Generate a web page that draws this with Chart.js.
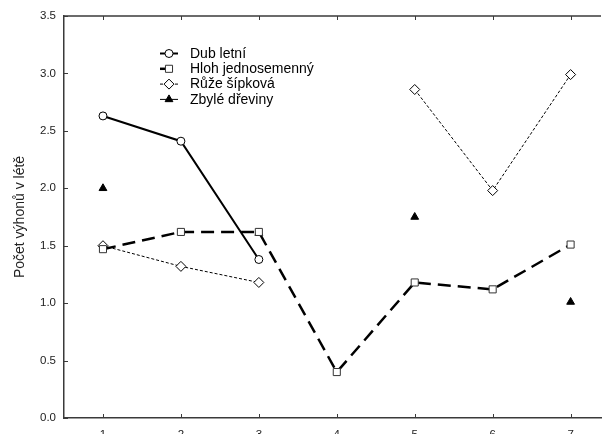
<!DOCTYPE html>
<html>
<head>
<meta charset="utf-8">
<script src="https://cdn.jsdelivr.net/npm/chart.js@4/dist/chart.umd.min.js"></script>
<style>
  html, body { margin: 0; padding: 0; background: #fff; overflow: hidden; }
  #wrap { width: 607px; height: 434px; overflow: hidden; }
</style>
</head>
<body>
<div id="wrap"><canvas id="chart" width="607" height="446"></canvas></div>
<script>
// Data
const xValues = [1, 2, 3, 4, 5, 6, 7];
const dubLetni = [2.63, 2.41, 1.38, null, null, null, null];
const hlohJednosemenny = [1.47, 1.62, 1.62, 0.40, 1.18, 1.12, 1.51];
const ruzeSipkova = [1.50, 1.32, 1.18, null, 2.86, 1.98, 2.99];
const zbyleDreviny = [2.00, null, 1.61, null, 1.75, null, 1.01];
const yTicks = [0, 0.5, 1, 1.5, 2, 2.5, 3, 3.5];

const fontFamily = '"Liberation Sans", Arial, sans-serif';
const axisColor = '#3a3a3a';

const toPoints = arr => xValues.map((x, i) => ({ x: x, y: arr[i] }));

// Inward tick marks + top frame line
const frameTicks = {
    id: 'frameTicks',
    afterDraw(chart) {
        const { ctx, chartArea: a, scales: { x, y } } = chart;
        ctx.save();
        ctx.strokeStyle = axisColor;
        ctx.lineWidth = 1.5;
        ctx.beginPath();
        ctx.moveTo(a.left, a.top);
        ctx.lineTo(a.right, a.top);
        ctx.stroke();
        ctx.lineWidth = 1;
        ctx.beginPath();
        x.ticks.forEach(t => {
            const px = Math.round(x.getPixelForValue(t.value)) + 0.5;
            ctx.moveTo(px, a.bottom);
            ctx.lineTo(px, a.bottom - 4);
            ctx.moveTo(px, a.top);
            ctx.lineTo(px, a.top + 4);
        });
        y.ticks.forEach(t => {
            const py = Math.round(y.getPixelForValue(t.value)) + 0.5;
            ctx.moveTo(a.left, py);
            ctx.lineTo(a.left + 4, py);
        });
        ctx.stroke();
        ctx.restore();
    }
};

// Legend drawn inside the plot, like the original
const innerLegend = {
    id: 'innerLegend',
    afterDraw(chart) {
        const ctx = chart.ctx;
        const left = 160, lineLen = 18, textX = 190, top = 53.5, rowH = 15.3;
        chart.data.datasets.forEach((ds, i) => {
            const yy = top + i * rowH;
            ctx.save();
            ctx.strokeStyle = ds.borderColor;
            ctx.lineWidth = ds.showLine === false ? 1 : ds.borderWidth;
            ctx.setLineDash(ds.showLine === false ? [] : (ds.borderDash || []));
            ctx.beginPath();
            ctx.moveTo(left, yy);
            ctx.lineTo(left + lineLen, yy);
            ctx.stroke();
            ctx.setLineDash([]);
            ctx.fillStyle = ds.pointBackgroundColor;
            ctx.strokeStyle = ds.pointBorderColor;
            ctx.lineWidth = ds.pointBorderWidth;
            Chart.helpers.drawPoint(ctx, {
                pointStyle: ds.pointStyle,
                radius: ds.pointRadius,
                borderWidth: ds.pointBorderWidth,
                rotation: 0
            }, left + lineLen / 2, yy);
            ctx.fillStyle = '#000';
            ctx.font = '14px ' + fontFamily;
            ctx.textBaseline = 'middle';
            ctx.fillText(ds.label, textX, yy + 0.5);
            ctx.restore();
        });
    }
};

new Chart(document.getElementById('chart').getContext('2d'), {
    type: 'line',
    data: {
        datasets: [{
            label: 'Dub letní',
            data: toPoints(dubLetni),
            borderColor: '#000',
            borderWidth: 2,
            pointStyle: 'circle',
            pointRadius: 4,
            pointBackgroundColor: '#fff',
            pointBorderColor: '#000',
            pointBorderWidth: 1,
            tension: 0
        }, {
            label: 'Hloh jednosemenný',
            data: toPoints(hlohJednosemenny),
            borderColor: '#000',
            borderWidth: 2.5,
            borderDash: [13, 7],
            tension: 0,
            pointStyle: 'rect',
            pointRadius: 5,
            pointBackgroundColor: '#fff',
            pointBorderColor: '#333',
            pointBorderWidth: 1
        }, {
            label: 'Růže šípková',
            data: toPoints(ruzeSipkova),
            borderColor: '#000',
            borderWidth: 1,
            borderDash: [3, 2],
            pointStyle: 'rectRot',
            pointRadius: 5,
            pointBackgroundColor: '#fff',
            pointBorderColor: '#000',
            pointBorderWidth: 1,
            tension: 0
        }, {
            label: 'Zbylé dřeviny',
            data: toPoints(zbyleDreviny),
            showLine: false,
            borderColor: '#000',
            borderWidth: 1,
            pointStyle: 'triangle',
            pointRadius: 4.5,
            pointBackgroundColor: '#000',
            pointBorderColor: '#000',
            pointBorderWidth: 1
        }]
    },
    options: {
        responsive: false,
        animation: false,
        spanGaps: false,
        layout: { padding: { top: 16, right: 0, left: 0, bottom: 0 } },
        plugins: {
            legend: { display: false },
            tooltip: { enabled: false }
        },
        scales: {
            x: {
                type: 'linear',
                min: 0.5,
                max: 7.39,
                afterBuildTicks: s => { s.ticks = xValues.map(v => ({ value: v })); },
                afterFit: s => { s.height = 28; },
                grid: { display: false, drawTicks: false },
                border: { display: true, color: axisColor, width: 1.5 },
                ticks: {
                    color: '#222',
                    padding: 10,
                    maxRotation: 0,
                    font: { family: fontFamily, size: 11.5 }
                }
            },
            y: {
                min: 0,
                max: 3.5,
                afterBuildTicks: s => { s.ticks = yTicks.map(v => ({ value: v })); },
                afterFit: s => { s.width = 64; },
                grid: { display: false, drawTicks: false },
                border: { display: true, color: axisColor, width: 1.5 },
                ticks: {
                    color: '#222',
                    padding: 8,
                    font: { family: fontFamily, size: 11.5 },
                    callback: v => Number(v).toFixed(1)
                },
                title: {
                    display: true,
                    text: 'Počet výhonů v létě',
                    color: '#222',
                    padding: { top: 12, bottom: 0 },
                    font: { family: fontFamily, size: 14 }
                }
            }
        }
    },
    plugins: [frameTicks, innerLegend]
});
</script>
</body>
</html>
